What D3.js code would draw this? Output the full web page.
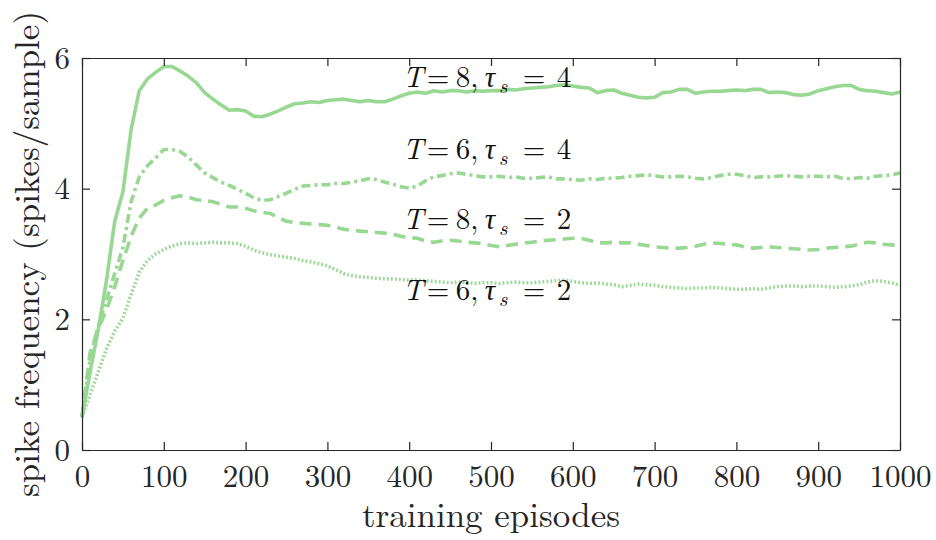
<!DOCTYPE html>
<html>
<head>
<meta charset="utf-8">
<script src="https://cdn.jsdelivr.net/npm/d3@7"></script>
<style>
  body { margin: 0; background: #fff; }
  svg { display: block; }
</style>
</head>
<body>
<div id="chart"></div>
<script>
const episodes = d3.range(0, 1001, 10);

const t8s4 = [0.5, 1.2, 1.85, 2.6, 3.5, 3.95, 4.9, 5.5, 5.68, 5.78, 5.87, 5.87, 5.8, 5.72, 5.62, 5.47, 5.37, 5.28, 5.2, 5.21,
  5.19, 5.11, 5.1, 5.14, 5.19, 5.25, 5.3, 5.31, 5.33, 5.32, 5.35, 5.36, 5.37, 5.35, 5.33, 5.35, 5.33, 5.33, 5.37, 5.42,
  5.46, 5.48, 5.46, 5.5, 5.48, 5.5, 5.5, 5.48, 5.5, 5.49, 5.5, 5.5, 5.52, 5.51, 5.53, 5.54, 5.55, 5.56, 5.58, 5.59,
  5.57, 5.55, 5.54, 5.47, 5.5, 5.51, 5.46, 5.43, 5.4, 5.39, 5.4, 5.47, 5.48, 5.52, 5.52, 5.46, 5.48, 5.49, 5.49, 5.5,
  5.51, 5.5, 5.52, 5.52, 5.47, 5.48, 5.47, 5.44, 5.43, 5.45, 5.5, 5.53, 5.56, 5.58, 5.58, 5.52, 5.5, 5.49, 5.47, 5.45, 5.48];

const t6s4 = [0.5, 1.4, 1.9, 2.3, 2.7, 3.1, 3.8, 4.18, 4.35, 4.47, 4.6, 4.6, 4.57, 4.48, 4.36, 4.24, 4.17, 4.1, 4.05, 3.99,
  3.93, 3.86, 3.82, 3.83, 3.88, 3.93, 3.99, 4.04, 4.05, 4.06, 4.06, 4.08, 4.08, 4.1, 4.12, 4.15, 4.14, 4.1, 4.07, 4.03,
  4.01, 4.04, 4.12, 4.18, 4.2, 4.23, 4.24, 4.22, 4.2, 4.18, 4.18, 4.19, 4.17, 4.18, 4.16, 4.16, 4.17, 4.18, 4.15, 4.15,
  4.14, 4.13, 4.15, 4.14, 4.16, 4.16, 4.17, 4.19, 4.2, 4.21, 4.2, 4.18, 4.18, 4.19, 4.18, 4.16, 4.15, 4.17, 4.2, 4.22,
  4.22, 4.2, 4.17, 4.18, 4.18, 4.19, 4.2, 4.19, 4.18, 4.19, 4.19, 4.18, 4.19, 4.16, 4.15, 4.17, 4.16, 4.19, 4.2, 4.21, 4.24];

const t8s2 = [0.5, 1.5, 1.85, 2.15, 2.5, 2.9, 3.27, 3.55, 3.7, 3.75, 3.82, 3.86, 3.89, 3.87, 3.83, 3.82, 3.8, 3.76, 3.72, 3.72,
  3.7, 3.66, 3.64, 3.62, 3.56, 3.5, 3.48, 3.47, 3.46, 3.45, 3.44, 3.41, 3.38, 3.36, 3.35, 3.34, 3.33, 3.32, 3.3, 3.27,
  3.25, 3.24, 3.2, 3.18, 3.2, 3.21, 3.2, 3.18, 3.17, 3.16, 3.13, 3.11, 3.13, 3.15, 3.17, 3.18, 3.2, 3.21, 3.22, 3.23,
  3.24, 3.24, 3.21, 3.17, 3.17, 3.18, 3.17, 3.17, 3.15, 3.13, 3.11, 3.1, 3.09, 3.09, 3.1, 3.12, 3.15, 3.17, 3.16, 3.15,
  3.14, 3.11, 3.09, 3.1, 3.11, 3.1, 3.09, 3.08, 3.07, 3.06, 3.07, 3.09, 3.1, 3.11, 3.12, 3.15, 3.18, 3.17, 3.15, 3.14, 3.12];

const t6s2 = [0.5, 0.85, 1.2, 1.55, 1.82, 2.02, 2.38, 2.72, 2.9, 3.0, 3.07, 3.12, 3.16, 3.17, 3.16, 3.17, 3.18, 3.17, 3.17, 3.16,
  3.12, 3.06, 3.02, 2.99, 2.97, 2.95, 2.93, 2.9, 2.88, 2.85, 2.82, 2.76, 2.7, 2.67, 2.65, 2.64, 2.63, 2.62, 2.62, 2.61,
  2.6, 2.6, 2.59, 2.58, 2.57, 2.56, 2.57, 2.56, 2.55, 2.56, 2.56, 2.55, 2.56, 2.57, 2.56, 2.56, 2.57, 2.58, 2.59, 2.6,
  2.58, 2.56, 2.55, 2.56, 2.54, 2.53, 2.5, 2.52, 2.54, 2.53, 2.52, 2.5, 2.49, 2.48, 2.47, 2.48, 2.48, 2.49, 2.48, 2.47,
  2.46, 2.46, 2.47, 2.46, 2.48, 2.5, 2.51, 2.51, 2.5, 2.51, 2.51, 2.5, 2.49, 2.5, 2.51, 2.53, 2.57, 2.59, 2.58, 2.56, 2.52];

const xTicks = [0, 100, 200, 300, 400, 500, 600, 700, 800, 900, 1000];
const yTicks = [0, 2, 4, 6];

// label text pieces: T value, tau_s value, anchor (episode, frequency)
const labelT = [8, 6, 8, 6];
const labelTau = [4, 4, 2, 2];
const labelAt = [[392, 5.56], [392, 4.45], [392, 3.38], [392, 2.3]];

// dimensions
const W = 936, H = 540;
const MARGIN = { top: 58, right: 36, bottom: 90, left: 82 };
const WIDTH = W - MARGIN.left - MARGIN.right;
const HEIGHT = H - MARGIN.top - MARGIN.bottom;
const LINE_COLOR = "#98d892";
const AXIS_COLOR = "#262626";
const FONT = '"Latin Modern Roman"';

const svg = d3.select("#chart").append("svg")
  .attr("width", W)
  .attr("height", H);

const g = svg.append("g")
  .attr("transform", `translate(${MARGIN.left},${MARGIN.top})`);

const x = d3.scaleLinear().domain([0, 1000]).range([0, WIDTH]);
const y = d3.scaleLinear().domain([0, 6]).range([HEIGHT, 0]);

// series
const series = [
  { values: t8s4, dash: null },
  { values: t6s4, dash: "9,4,3,4" },
  { values: t8s2, dash: "12,7" },
  { values: t6s2, dash: "1.8,2.2" }
];

const line = d3.line()
  .x((d, i) => x(episodes[i]))
  .y(d => y(d));

g.selectAll(".series")
  .data(series)
  .enter()
  .append("path")
  .attr("class", "series")
  .attr("d", d => line(d.values))
  .attr("fill", "none")
  .attr("stroke", LINE_COLOR)
  .attr("stroke-width", 3.6)
  .attr("stroke-linejoin", "round")
  .attr("stroke-dasharray", d => d.dash);

// axes with inward ticks, mirrored on top and right
const tickLen = 8;
const fmt = d3.format("d");
const xAxis = g.append("g")
  .attr("transform", `translate(0,${HEIGHT})`)
  .call(d3.axisBottom(x).tickValues(xTicks).tickFormat(fmt).tickSizeInner(-tickLen).tickSizeOuter(0).tickPadding(15));
const xTop = g.append("g")
  .call(d3.axisTop(x).tickValues(xTicks).tickSizeInner(-tickLen).tickSizeOuter(0).tickFormat(""));
const yAxis = g.append("g")
  .call(d3.axisLeft(y).tickValues(yTicks).tickFormat(fmt).tickSizeInner(-tickLen).tickSizeOuter(0).tickPadding(12));
const yRight = g.append("g")
  .attr("transform", `translate(${WIDTH},0)`)
  .call(d3.axisRight(y).tickValues(yTicks).tickSizeInner(-tickLen).tickSizeOuter(0).tickFormat(""));

[xAxis, xTop, yAxis, yRight].forEach(a => {
  a.select(".domain").attr("stroke", AXIS_COLOR).attr("stroke-width", 1.2);
  a.selectAll(".tick line").attr("stroke", AXIS_COLOR).attr("stroke-width", 1.2);
  a.selectAll(".tick text")
    .attr("fill", AXIS_COLOR)
    .style("font-family", FONT)
    .style("font-size", "31px");
});
xAxis.selectAll(".tick text").attr("dy", "0.7em");
yAxis.selectAll(".tick text").attr("dy", "0.33em");

// axis titles
svg.append("text")
  .attr("x", MARGIN.left + WIDTH / 2)
  .attr("y", 527)
  .attr("text-anchor", "middle")
  .attr("fill", AXIS_COLOR)
  .style("font-family", FONT)
  .style("font-size", "35px")
  .text("training episodes");

svg.append("text")
  .attr("transform", `translate(39,${MARGIN.top + HEIGHT / 2}) rotate(-90)`)
  .attr("text-anchor", "middle")
  .attr("fill", AXIS_COLOR)
  .style("font-family", FONT)
  .style("font-size", "35px")
  .text("spike frequency (spikes/sample)");

// in-plot labels: T = n,  tau_s = m
labelAt.forEach((p, i) => {
  const x0 = x(p[0]);
  const t = g.append("text")
    .attr("x", x0)
    .attr("y", y(p[1]))
    .attr("fill", "#111")
    .style("font-family", FONT)
    .style("font-size", "29px");
  t.append("tspan").attr("x", x0).style("font-style", "italic").text("T");
  t.append("tspan").attr("x", x0 + 24).text("=");
  t.append("tspan").attr("x", x0 + 53).text(labelT[i] + ",");
  t.append("tspan").attr("x", x0 + 82).style("font-style", "italic").text("τ");
  t.append("tspan").attr("x", x0 + 96).attr("dy", 6).style("font-style", "italic").style("font-size", "21px").text("s");
  t.append("tspan").attr("x", x0 + 120).attr("dy", -6).text("=");
  t.append("tspan").attr("x", x0 + 154).text(labelTau[i]);
});
</script>
</body>
</html>
